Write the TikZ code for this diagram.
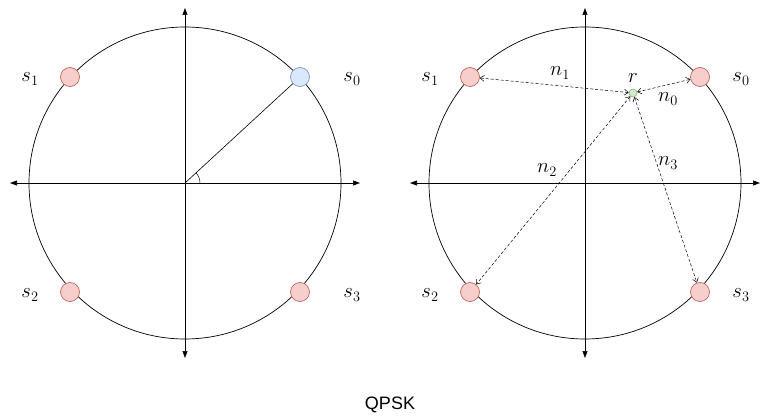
\documentclass[tikz,border=0pt]{standalone}
\usepackage{fontspec}
\setsansfont{Liberation Sans}
\usetikzlibrary{arrows.meta}
\definecolor{rfill}{HTML}{F8CECC}\definecolor{rdraw}{HTML}{B85450}
\definecolor{bfill}{HTML}{DAE8FC}\definecolor{bdraw}{HTML}{6C8EBF}
\definecolor{gfill}{HTML}{D5E8D4}\definecolor{gdraw}{HTML}{82B366}
\begin{document}
\begin{tikzpicture}[x=1pt,y=-1pt,
  sym/.style={circle,draw=rdraw,fill=rfill,minimum size=19pt,inner sep=0pt,line width=0.6pt},
  sym0/.style={sym,draw=bdraw,fill=bfill},
  rx/.style={circle,draw=gdraw,fill=gfill,minimum size=8pt,inner sep=0pt,line width=0.6pt},
  lab/.style={font=\fontsize{21}{24}\selectfont,inner sep=0pt},
  axis/.style={line width=0.6pt,-{Triangle[length=7pt,width=5pt]}},
  ring/.style={line width=0.7pt},
  noise/.style={dashed,line width=0.5pt,dash pattern=on 3pt off 2pt,{Straight Barb[length=4pt,width=6pt]}-{Straight Barb[length=4pt,width=6pt]}}]
\useasboundingbox (0,0) rectangle (772,420);
% left constellation
\coordinate (cl) at (185,183);
\draw[ring] (cl) circle (156);
\coordinate (lw) at (10,183); \coordinate (le) at (360,183);
\coordinate (ln) at (185,8); \coordinate (ls) at (185,358);
\draw[axis] (cl) -- (lw); \draw[axis] (cl) -- (le);
\draw[axis] (cl) -- (ln); \draw[axis] (cl) -- (ls);
\node[sym0] (a0) at (300,77) {};
\node[sym] (a1) at (70,77) {};
\node[sym] (a2) at (70,292) {};
\node[sym] (a3) at (300,292) {};
\draw[line width=0.6pt] (cl) -- (a0);
\draw[line width=0.5pt] (200,183) arc (0:-42.7:15);
\node[lab] (la0) at (352,79) {$s_0$};
\node[lab] (la1) at (30,79) {$s_1$};
\node[lab] (la2) at (30,295) {$s_2$};
\node[lab] (la3) at (352,295) {$s_3$};
% right constellation
\coordinate (cr) at (585,183);
\draw[ring] (cr) circle (156);
\coordinate (rw) at (410,183); \coordinate (re) at (760,183);
\coordinate (rn) at (585,8); \coordinate (rs) at (585,358);
\draw[axis] (cr) -- (rw); \draw[axis] (cr) -- (re);
\draw[axis] (cr) -- (rn); \draw[axis] (cr) -- (rs);
\node[sym] (b0) at (700,77) {};
\node[sym] (b1) at (470,77) {};
\node[sym] (b2) at (470,292) {};
\node[sym] (b3) at (700,292) {};
\node[rx] (r) at (633,93) {};
\node[lab] (lr) at (633,78) {$r$};
\draw[noise] (r) -- (b0);
\draw[noise] (r) -- (b1);
\draw[noise] (r) -- (b2);
\draw[noise] (r) -- (b3);
\node[lab] (n0) at (668,99) {$n_0$};
\node[lab] (n1) at (560,73) {$n_1$};
\node[lab] (n2) at (547,170) {$n_2$};
\node[lab] (n3) at (668,163) {$n_3$};
\node[lab] (lb0) at (741,79) {$s_0$};
\node[lab] (lb1) at (430,79) {$s_1$};
\node[lab] (lb2) at (430,295) {$s_2$};
\node[lab] (lb3) at (741,295) {$s_3$};
\node[font=\sffamily\fontsize{18}{20}\selectfont] (title) at (390,405) {QPSK};
\end{tikzpicture}
\end{document}
